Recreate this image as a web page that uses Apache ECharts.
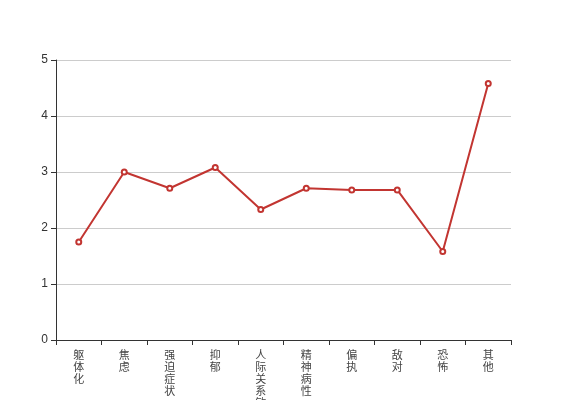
<!DOCTYPE html>
<html>
<head>
<meta charset="utf-8">
<script src="https://cdn.jsdelivr.net/npm/echarts@6/dist/echarts.min.js"></script>
<style>html,body{margin:0;padding:0;background:#fff}#c{width:567px;height:400px}</style>
</head>
<body>
<div id="c"></div>
<script>
var categories = ['躯体化','焦虑','强迫症状','抑郁','人际关系敏感','精神病性','偏执','敌对','恐怖','其他'];
var values = [1.75, 3.0, 2.71, 3.08, 2.33, 2.71, 2.68, 2.68, 1.58, 4.58];
var yTicks = [0, 1, 2, 3, 4, 5];

var chart = echarts.init(document.getElementById('c'));
chart.setOption({
  animation: false,
  grid: {left: 56, right: 56, top: 60, bottom: 60, containLabel: false, outerBoundsMode: 'none'},
  xAxis: {
    type: 'category',
    data: categories,
    boundaryGap: true,
    axisLine: {lineStyle: {color: '#333'}},
    axisTick: {show: true, length: 5, lineStyle: {color: '#333'}},
    axisLabel: {
      interval: 0,
      color: '#444',
      fontSize: 11,
      lineHeight: 12,
      margin: 9,
      fontFamily: 'Noto Sans CJK SC',
      formatter: function (v) { return v.split('').join('\n'); }
    }
  },
  yAxis: {
    type: 'value',
    min: yTicks[0],
    max: yTicks[yTicks.length - 1],
    interval: 1,
    axisLine: {show: true, lineStyle: {color: '#333'}},
    axisTick: {show: true, length: 5, lineStyle: {color: '#333'}},
    axisLabel: {color: '#333', fontSize: 12},
    splitLine: {lineStyle: {color: '#ccc'}}
  },
  series: [{
    type: 'line',
    data: values,
    symbol: 'emptyCircle',
    symbolSize: 5,
    itemStyle: {color: '#c23531'},
    lineStyle: {color: '#c23531', width: 2}
  }]
});
</script>
</body>
</html>
